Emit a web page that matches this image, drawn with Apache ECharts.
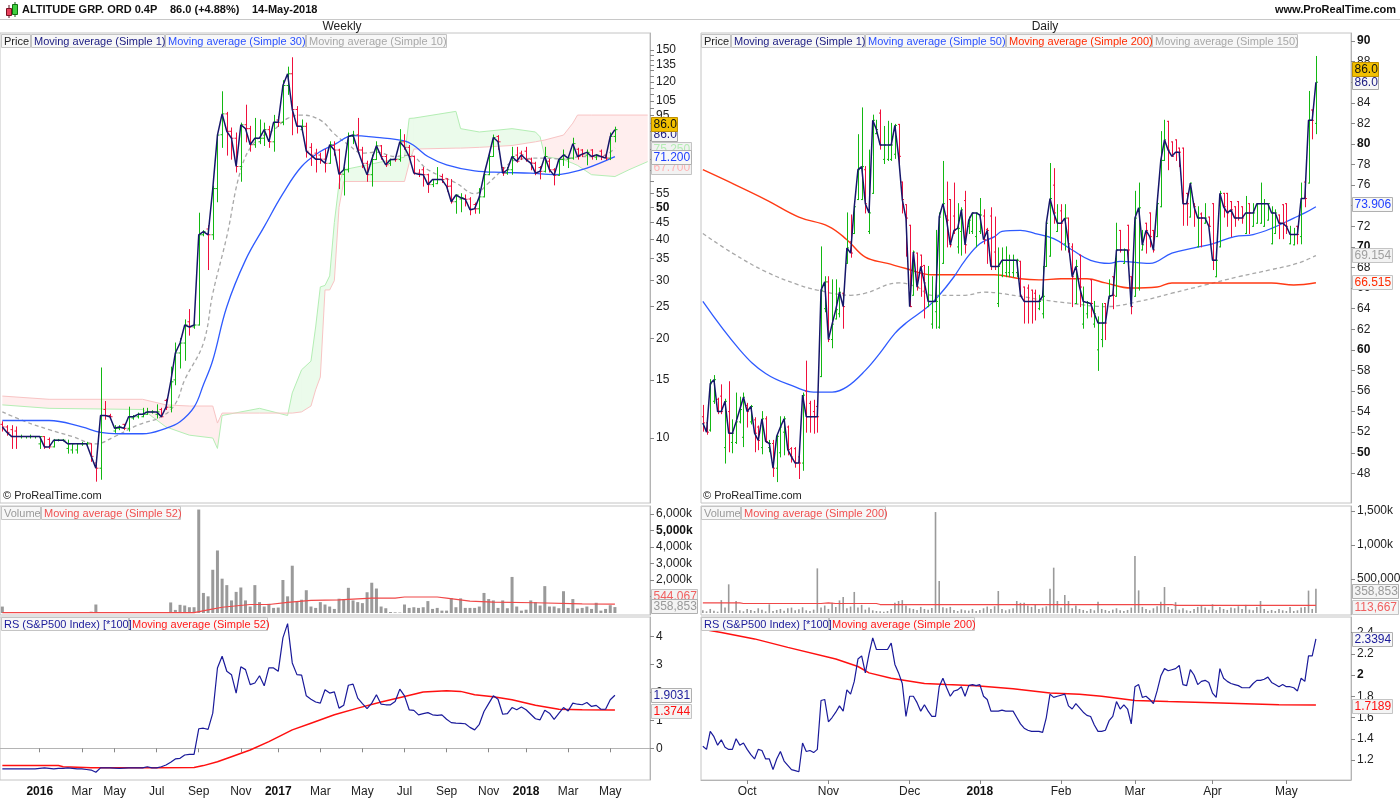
<!DOCTYPE html>
<html><head><meta charset="utf-8">
<script src="https://cdn.jsdelivr.net/npm/echarts@6/dist/echarts.min.js"></script>
<style>html,body{margin:0;padding:0;background:#fff}#c{width:1400px;height:800px}</style>
</head><body><div id="c"></div>
<script>
const FONT = '"Liberation Sans", Arial, sans-serif';
const UP = '#12b812', DOWN = '#f0103c', NAVY = '#16166a';

// ---------- WEEKLY (bar index 0 = week of 9-Nov-2015, 131 = 14-May-2018) ----------
const wOpen = [11.0,10.8,10.6,10.5,10.1,10.1,10.1,10.1,9.6,10.1, 9.9,9.4,9.85,9.85,9.3,9.2,9.2,9.6,9.6,9.6,
 8.4,8.1,12.2,11.7,10.5,10.7,11.0,10.7,11.5,11.6, 11.6,11.8,12.0,11.8,12.2,13.0,12.4,15.0,18.1,19.4,
 22.5,21.7,22.0,41.3,43,41.3,57,83,96,85, 81,66.5,89,86.6,77.4,79,81,86,79,92,
 90.5,117,127,99,86,88,76,73,72,70, 68,77,74.6,63,65,82,83,74.6,68,62.8,
 69.8,76.8,71.3,68,70,69.8,79,76,71.3,63.5, 65,62.8,58.6,59,62,61,58,52,53,53,
 53,51,49.5,53.8,62.8,71.3,82,66,63.5,65, 72,73,74,70,68,66,64.3,69,65,62.5,
 69.8,70,70.5,75,74.6,72,74.6,71,74,72, 70.5,82];
const wHigh = [11.2,10.9,10.9,10.8,10.2,10.1,10.2,10.1,10.1,10.1, 10.0,9.9,9.9,9.9,9.85,9.6,9.6,9.7,9.7,9.6,
 8.7,16.3,12.9,11.8,10.9,10.9,11.0,12.4,11.7,11.9, 12.3,12.3,12.1,12.6,12.3,13.1,16.4,19.4,20.0,22.8,
 24.5,23.0,48.0,42.5,44,58,83,112,97,87, 84,90,102,88,93,92,90,88,95,94,
 121,133,142,101,92,90,78,75,73,75, 79,79,75,66,84,85,93,76,69,72,
 79,77,72,70,71,86,83,77,71.5,65, 66,63,60.7,66,63,61,60.7,54.5,55,54.5,
 53.5,51.5,57,63.5,72.5,82.8,82.5,66,66,76, 76,74,76,70.5,68.5,66.5,76,70,65.5,70,
 74.6,71.5,81,75.5,74.8,74.6,74.8,72.3,74.6,72.3, 84,87.5];
const wLow = [10.5,10.2,9.3,9.3,10.0,10.0,10.0,10.0,9.3,9.3, 9.3,9.4,9.8,9.8,9.0,9.0,9.0,9.5,9.5,8.5,
 7.4,7.5,11.4,11.5,10.4,10.6,10.6,10.5,11.4,11.5, 11.6,11.8,11.9,11.5,11.6,12.2,12.0,14.5,16.3,17.2,
 20.5,21.5,22.0,41.0,32.4,40,52,76,72,70, 64,60,79,74,76,78,77,76,74,88,
 89,110,83,84,85,71,67,64,68,64, 68,72,57,54.5,64,78,73,66,60,58,
 69.8,70,66.5,67,69,69,75,70,63,62, 58,55.5,57.8,59,59.5,56,51.5,48,48.5,50.5,
 47.5,48,48,53.8,62.8,71.3,75,62.5,63,63, 68.5,69.8,69,65,62.8,61,64,64,58.5,62.5,
 67,66,70,70,71.3,67.3,70,69.8,69.8,69.8, 69.8,79];
const wClose = [10.8,10.4,10.1,10.1,10.1,10.1,10.1,10.1,10.1,9.4, 9.4,9.85,9.85,9.85,9.6,9.6,9.6,9.6,9.6,8.8,
 8.1,11.7,11.7,11.6,10.7,10.8,10.7,11.6,11.6,11.8, 11.8,12.0,12.0,12.0,11.6,12.4,14.8,18.1,19.4,22.0,
 21.7,22.0,41.3,42.2,41.3,57,82.8,96,85,81, 66.5,89,86.6,77.4,81,81,86,79,90.5,90.5,
 117,127,99,88,88,74,72,70,70,68, 77.4,74.6,63,65,82,82.8,74.6,68,62.8,69.8,
 76.8,71.3,67.3,69.8,69.8,79,76,71.3,63.5,63, 62.8,58.6,60.7,60.7,60.7,57.9,52,54.5,53.5,52.9,
 49.2,49.5,53.8,62.8,71.3,81.4,79,63.5,65,71.3, 69,72.1,69.8,68.1,63.5,64.3,71.3,65,62.5,69.8,
 72.1,70.5,78,71.3,72.5,73.4,71.3,72.1,71.3,70.5, 82,86];
// moving averages: [bar index, value]
const wMA30 = [[0,11.3],[10,11.3],[17,10.8],[21,10.4],[25,10.3],[30,10.3],[35,10.7],[38,11.2],[41,12.4],[43,14.5],[45,17.2],[48,25],[52,34.6],[56,43.7],[60,55],[64,66.5],[68,73.8],[71,77.5],[75,82.5],[80,81.5],[86,79.5],[88,77],[91,71.3],[95,67.3],[101,64.5],[107,63.8],[113,63.5],[118,62.8],[121,63.5],[125,65.7],[131,71.2]];
const wMA10 = [[0,12.0],[5,11.2],[10,10.6],[15,10.1],[20,9.6],[24,10.1],[29,10.95],[34,11.6],[37,12.7],[39,15],[43,19.4],[45,27.4],[48,40.8],[51,65],[54,79],[58,85.8],[61,93],[64,95.2],[68,91.9],[71,83.5],[74,77.4],[77,73],[80,73.5],[84,71.3],[87,72],[91,65],[97,59.3],[101,55],[104,59.3],[107,65],[110,69.8],[116,70.5],[120,70],[124,71.3],[128,71.3],[131,75.7]];
// ichimoku cloud spans (projected forward)
const ichiIdx = [0,10,30,35,40,45,46,47,55,61, 62,64,66,67,68,69,70,71,72,73, 86,87,88,97,98,102,109,114,115,116, 120,122,123,126,131,134,138];
const spanA = [12.6,12.3,12.2,10.8,10.2,10.0,9.3,11.7,12.3,11.7, 13.7,16.1,17.1,21.7,28.7,29,31,45,59,65, 71,93,93.2,97.7,86.6,84.6,86.6,84.6,81.8,71.3, 69.8,68,67,62.8,62,65,68.8];
const spanB = [13.4,13.1,13.1,12.6,12.5,12.5,11.1,11.9,11.9,11.9, 11.9,12.0,12.5,14,15.3,28.1,28.1,30,50,59.9, 59.9,68,75.1,75.6,75.6,76,77,79,79.5,80, 82.8,90,95.2,95.2,95.2,95.2,95.2];
// weekly volume (thousands)
const wVolK = [390,10,5,8,5,3,5,4,6,5, 3,8,4,6,5,3,4,6,5,80, 515,40,30,20,15,20,10,30,15,20, 10,15,10,25,15,40,640,186,495,454,
 350,350,6270,1216,1010,2620,3790,2080,1690,763, 1280,1546,763,392,1690,660,392,557,309,330,
 2000,1010,2866,701,804,1381,392,309,660,515, 392,247,866,825,1526,763,660,598,1258,1835,
 1484,392,289,60,40,30,515,309,350,309, 350,722,247,309,144,144,907,350,887,309,
 309,309,392,1216,845,763,309,763,289,2186, 392,144,200,763,660,454,1629,392,392,289,
 1320,309,845,268,309,392,247,619,144,247, 474,358.853];
const wVolMA52 = [[0,20],[41,20],[44,186],[47,350],[53,515],[57,515],[61,640],[66,763],[72,800],[79,907],[84,907],[86,969],[93,969],[95,907],[100,722],[105,660],[114,620],[124,557],[131,544.067]];
// relative strength vs S&P500 (*100)
const wRS = [-0.74,-0.74,-0.74,-0.74,-0.74,-0.74,-0.74,-0.74,-0.72,-0.70, -0.72,-0.74,-0.72,-0.72,-0.70,-0.72,-0.74,-0.74,-0.76,-0.78,
 -0.86,-0.70,-0.70,-0.70,-0.71,-0.72,-0.71,-0.70,-0.70,-0.70, -0.70,-0.66,-0.70,-0.70,-0.66,-0.60,-0.50,-0.38,-0.36,-0.24,
 -0.22,-0.22,0.70,0.72,0.68,1.26,2.88,3.30,2.76,2.64, 1.98,2.92,2.82,2.28,2.34,2.60,2.24,2.88,2.88,2.76,
 3.96,4.47,3.06,2.64,2.62,1.88,1.76,1.66,1.62,2.10, 1.98,2.02,1.44,1.54,2.26,2.30,1.80,1.60,1.42,1.62,
 1.92,1.58,1.56,1.56,1.68,2.12,1.88,1.38,1.36,1.20, 1.24,1.28,1.20,1.18,1.20,1.04,0.92,0.90,0.89,0.88,
 0.75,0.66,0.86,1.32,1.60,1.88,1.76,1.22,1.24,1.46, 1.38,1.48,1.38,1.22,1.06,1.02,1.36,1.26,1.04,1.25,
 1.46,1.34,1.62,1.58,1.56,1.64,1.50,1.54,1.40,1.40, 1.74,1.9031];
const wRSMA52 = [[0,-0.62],[12,-0.62],[13,-0.66],[19,-0.70],[33,-0.70],[41,-0.69],[43,-0.62],[46,-0.48],[49,-0.30],[53,-0.06],[57,0.24],[62,0.66],[66,0.90],[71,1.2],[76,1.44],[81,1.66],[86,1.86],[90,2.02],[95,2.06],[98,2.04],[101,1.92],[105,1.85],[109,1.74],[114,1.54],[119,1.40],[124,1.38],[131,1.3744]];
const wLabelIdx = [8,17,24,33,42,51,59,68,77,86,95,104,112,121,130];
const wLabelTxt = ['2016','Mar','May','Jul','Sep','Nov','2017','Mar','May','Jul','Sep','Nov','2018','Mar','May'];
const wPriceLabels = [10,15,20,25,30,35,40,45,50,55,95,105,120,135,150];
const wPriceTicks = [10,15,20,25,30,35,40,45,50,55,60,65,70,75,80,85,90,95,100,105,110,115,120,125,130,135,140,145,150];

// ---------- DAILY (bar index 0 = 14-Sep-2017, 166 = 14-May-2018) ----------
const dOpen = [53.5,52.9,52.2,55.0,55.2,55.5,50.5,54.0,51.0,51.0, 53.0,51.5,54.6,53.0,53.2,52.5,50.5,53.3,50.5,50.9,
 48.5,50.0,52.0,52.5,50.4,50.4,49.6,49.0,56.0,54.8, 54.0,54.5,57.4,64.0,66.6,61.0,63.0,63.5,65.5,68.4,
 70.5,71.3,74.6,74.6,77.5,71.5,75.2,81.0,83.0,78.5, 78.5,78.5,79.0,81.9,76.3,74.1,72.1,65.3,69.4,69.2,
 68.2,64.2,62.5,63.7,62.2,68.4,73.0,74.6,73.0,70.0, 71.5,74.5,72.0,71.5,71.0,71.5,73.0,71.7,73.0,69.5,
 64.5,67.2,67.5,67.5,67.5,67.5,68.6,66.1,66.0,65.8, 65.5,64.0,63.5,68.1,69.1,76.0,71.5,73.5,70.3,72.8,
 70.0,64.5,69.2,62.5,63.5,66.8,62.5,60.0,61.0,64.5, 65.0,67.1,65.2,71.6,68.4,72.1,67.1,65.2,66.0,69.7,
 72.3,73.3,71.6,71.0,73.9,78.4,82.2,80.2,80.4,79.6, 79.6,75.2,72.9,74.1,70.0,73.2,72.3,72.9,74.2,67.1,
 70.0,75.2,75.2,74.4,73.9,74.4,73.9,71.3,74.2,72.0, 72.3,72.3,72.0,72.6,70.3,71.3,73.1,74.1,74.2,70.3,
 70.2,72.0,71.0,76.3,76.2,83.3,82.0];
const dHigh = [54.6,53.2,57.1,57.5,55.3,56.6,55.2,56.9,53.2,55.8, 55.4,55.8,54.8,54.6,53.4,52.6,54.0,53.5,51.2,51.2,
 51.8,53.5,53.5,52.6,50.5,50.5,50.4,55.8,58.9,55.0, 55.1,54.8,70.0,67.1,67.1,66.8,66.8,66.0,65.5,73.3,
 73.1,74.2,80.9,83.5,77.8,79.4,82.8,82.3,83.3,81.7, 82.2,82.0,81.9,81.9,76.3,74.1,72.1,69.6,69.4,69.2,
 68.2,68.1,67.1,71.6,73.3,78.3,76.3,74.6,76.2,74.2, 73.8,75.4,72.9,73.3,73.3,74.7,73.6,71.8,73.8,72.9,
 69.9,69.9,70.0,69.2,69.2,68.8,68.6,66.1,66.3,65.8, 65.8,65.3,68.1,72.3,78.1,77.6,74.1,74.1,74.1,72.8,
 70.3,68.7,69.2,66.1,64.7,66.8,64.7,63.2,64.5,64.5, 66.8,67.1,72.3,71.6,69.8,72.1,67.1,75.4,76.2,71.6,
 72.3,73.3,71.6,74.2,81.2,82.3,82.2,80.2,80.4,79.6, 79.6,75.2,76.2,74.2,73.9,73.3,74.2,72.9,74.2,69.7,
 75.4,75.2,75.2,74.4,73.9,74.4,73.9,74.9,74.2,74.2, 74.2,76.2,74.6,74.2,73.9,73.6,73.1,74.1,74.2,72.0,
 71.8,72.0,76.2,76.3,85.1,83.3,88.5];
const dLow = [52.1,51.8,52.1,54.8,53.8,53.8,49.0,50.1,50.0,50.9, 52.9,50.6,52.5,52.8,50.1,50.3,49.9,51.0,50.1,47.7,
 47.2,49.6,49.8,49.8,49.1,48.6,47.5,48.3,52.0,52.0, 51.9,52.0,57.4,63.7,60.8,60.2,63.0,63.2,62.1,68.4,
 69.0,71.3,74.6,74.6,73.3,71.3,75.2,81.0,79.5,78.1, 78.4,78.4,78.6,78.0,73.3,69.1,64.2,65.3,65.8,65.2,
 63.1,64.2,62.1,62.1,62.1,68.4,70.0,70.0,71.3,69.4, 69.2,69.4,71.3,71.3,70.0,71.3,70.3,68.4,67.8,67.8,
 64.2,67.1,67.1,67.1,67.1,67.1,65.2,62.6,62.6,62.6, 62.9,63.9,63.1,68.1,69.1,72.3,71.5,69.7,69.7,69.5,
 64.2,64.5,64.2,62.1,63.1,63.2,62.2,58.0,60.3,61.0, 65.0,64.0,65.2,69.5,68.4,68.4,63.5,65.2,65.8,69.7,
 69.4,70.0,69.5,71.0,73.9,78.4,77.5,78.8,78.4,77.8, 72.1,72.1,72.9,72.0,70.0,70.0,72.3,72.0,67.8,67.1,
 70.0,72.9,72.0,71.0,72.0,72.6,72.3,71.3,71.3,72.0, 72.3,72.3,72.0,72.6,70.3,71.3,70.8,70.8,71.3,70.3,
 70.2,70.3,70.3,73.9,76.2,80.5,81.0];
const dClose = [52.9,52.0,56.7,57.1,54.0,54.0,55.0,51.9,51.9,53.0, 54.2,55.4,54.0,54.5,51.9,51.2,53.3,51.1,50.9,48.5,
 51.6,52.5,53.3,50.3,49.6,49.0,49.0,55.6,53.5,53.5, 53.5,53.5,65.8,66.6,61.0,62.5,63.9,65.6,64.2,69.9,
 69.4,73.9,77.5,77.8,74.2,73.3,82.3,81.4,79.9,79.9, 79.9,79.9,81.8,78.8,74.6,72.8,64.2,69.5,66.1,68.1,
 66.5,64.7,64.7,64.7,72.9,74.2,72.6,70.2,71.6,71.8, 73.6,70.2,72.6,73.3,73.3,73.1,70.7,71.6,68.1,68.1,
 68.1,68.7,68.7,68.7,68.7,68.7,65.3,64.7,64.7,64.7, 64.7,64.7,65.2,72.3,74.7,73.3,72.3,72.3,72.8,70.3,
 67.1,68.1,66.1,64.7,64.6,64.5,63.5,62.6,62.6,62.6, 65.2,65.3,69.7,69.7,69.7,69.7,64.2,72.8,73.8,70.2,
 71.6,71.0,69.7,74.2,78.4,80.4,79.4,78.8,79.2,79.2, 74.2,74.2,76.2,73.9,72.8,72.8,72.8,72.0,68.7,68.7,
 75.2,73.9,73.3,73.6,72.8,72.8,72.8,73.3,73.3,73.3, 74.2,74.2,74.2,74.2,73.3,73.3,72.3,72.3,72.0,71.2,
 71.2,71.2,74.7,74.7,82.3,82.3,86.0];
const dMA50 = [[0,64.7],[10,60.0],[17,57.7],[25,56.4],[30,55.9],[35,55.9],[39,56.4],[44,58.0],[48,59.7],[52,61.6],[55,62.6],[61,64.2],[64,65.3],[68,67.1],[71,68.7],[75,70.3],[79,71.0],[81,71.5],[86,71.6],[90,71.3],[95,70.8],[100,69.7],[105,68.7],[110,68.4],[113,68.6],[121,68.4],[127,69.4],[133,69.9],[138,70.3],[144,71.0],[149,71.2],[154,71.8],[160,72.8],[163,73.3],[166,73.906]];
const dMA200 = [[0,77.5],[6,76.5],[17,74.6],[26,72.9],[34,72.0],[39,70.7],[44,69.0],[50,68.4],[55,67.9],[62,67.3],[71,67.3],[79,67.3],[86,66.9],[91,66.8],[97,66.9],[104,66.9],[109,66.5],[116,66.0],[123,66.1],[127,66.5],[136,66.5],[154,66.5],[160,66.3],[166,66.515]];
const dMA150 = [[0,71.3],[8,69.4],[17,67.6],[26,66.3],[31,65.8],[40,65.3],[44,65.5],[53,66.5],[58,66.1],[62,65.3],[71,65.3],[76,65.6],[86,65.2],[91,64.9],[100,64.5],[109,64.2],[118,64.7],[127,65.5],[136,66.3],[145,67.1],[154,67.8],[161,68.4],[166,69.154]];
const dVolK = [40,25,60,35,20,190,80,422,30,177, 40,25,60,45,30,70,50,25,128,30, 45,60,35,70,80,40,55,85,40,30,
 50,657,80,110,60,150,90,186,235,70, 95,310,80,120,50,80,40,30,25,20, 30,60,150,177,190,110,70,60,45,90,
 60,50,75,1485,471,85,70,90,45,30, 55,40,35,60,30,45,70,95,60,100, 324,60,40,55,70,177,150,150,110,90,
 128,60,80,100,358,667,177,80,265,177, 70,110,60,45,30,60,40,165,60,45, 30,50,70,40,30,45,80,838,333,90,
 60,40,70,100,165,382,90,60,160,50, 70,40,30,60,90,110,80,50,128,40, 90,60,45,80,70,100,60,120,50,40,
 90,177,60,30,45,30,60,40,30,90, 30,40,80,90,330,60,358.853];
const dVolMA200 = [[0,150],[10,150],[11,140],[32,140],[34,148],[36,140],[47,140],[48,125],[127,125],[128,113.667],[166,113.667]];
const dRS = [1.33,1.30,1.47,1.42,1.34,1.39,1.32,1.30,1.30,1.40, 1.34,1.36,1.30,1.25,1.21,1.30,1.29,1.21,1.21,1.11,
 1.21,1.28,1.19,1.15,1.11,1.10,1.09,1.36,1.28,1.29, 1.27,1.30,1.76,1.77,1.56,1.60,1.65,1.71,1.66,1.86,
 1.82,1.94,2.15,2.18,2.02,2.20,2.35,2.24,2.24,2.24, 2.24,2.30,2.10,2.02,1.92,1.61,1.80,1.80,1.74,1.66,
 1.72,1.66,1.61,1.61,1.89,1.97,1.88,1.80,1.85,1.86, 1.89,1.80,1.90,1.91,1.90,1.91,1.80,1.77,1.66,1.66,
 1.66,1.67,1.66,1.66,1.66,1.60,1.54,1.50,1.48,1.47, 1.47,1.47,1.46,1.60,1.82,1.79,1.80,1.81,1.82,1.71,
 1.68,1.73,1.69,1.65,1.62,1.61,1.53,1.47,1.47,1.48, 1.57,1.61,1.75,1.68,1.72,1.68,1.54,1.89,1.91,1.79,
 1.80,1.77,1.73,1.85,1.99,2.06,2.04,2.05,2.06,2.09, 1.91,1.90,2.05,2.00,1.91,1.94,1.95,1.93,1.83,1.79,
 2.06,1.97,1.94,1.92,1.91,1.90,1.88,1.88,1.88,1.92, 1.95,1.95,1.96,1.98,1.93,1.91,1.89,1.91,1.89,1.89,
 1.88,1.85,1.97,1.94,2.18,2.18,2.3394];
const dRSMA200 = [[0,2.43],[5,2.40],[14,2.34],[23,2.26],[36,2.15],[42,2.08],[45,2.02],[51,1.97],[60,1.92],[66,1.91],[74,1.90],[84,1.87],[94,1.83],[102,1.82],[108,1.80],[117,1.76],[126,1.75],[138,1.74],[156,1.72],[166,1.7189]];
const dLabelIdx = [12,34,56,75,97,117,138,158];
const dLabelTxt = ['Oct','Nov','Dec','2018','Feb','Mar','Apr','May'];
const dPriceLabels = [48,50,52,54,56,58,60,62,64,66,68,70,72,74,76,78,80,82,84,86,88,90];

// ---------- build ----------
const L = Math.log;
const wN = 139, dN = 176;
const wCats = Array.from({length: wN}, (_, i) => String(i));
const dCats = Array.from({length: dN}, (_, i) => String(i));
const rich = {b: {fontWeight: 'bold', fontSize: 12, fontFamily: FONT, color: '#111'}};

const grids = [
  {left: 0, top: 33, width: 650, height: 470},
  {left: 0, top: 506, width: 650, height: 109},
  {left: 0, top: 617, width: 650, height: 163},
  {left: 701, top: 33, width: 650, height: 470},
  {left: 701, top: 506, width: 650, height: 109},
  {left: 701, top: 617, width: 650, height: 163}
].map(g => Object.assign(g, {show: true, borderColor: '#c4c4c4', borderWidth: 1, backgroundColor: '#fff', containLabel: false, outerBoundsMode: 'none'}));

function xa(gi, cats, show, labIdx, labTxt) {
  const isLab = (i) => labIdx.indexOf(i) >= 0;
  return {type: 'category', gridIndex: gi, data: cats, boundaryGap: true,
    axisLine: {show: show, lineStyle: {color: '#b4b4b4'}},
    axisTick: {show: show, interval: (i) => isLab(i), alignWithLabel: true, length: 4, lineStyle: {color: '#888'}},
    axisLabel: {show: show, interval: (i) => isLab(i), margin: 6, color: '#222', fontSize: 12, fontFamily: FONT, rich,
      formatter: (v) => { const k = labIdx.indexOf(Number(v)); if (k < 0) return ''; const t = labTxt[k]; return /^\d{4}$/.test(t) ? '{b|' + t + '}' : t; }},
    splitLine: {show: false}, axisPointer: {show: false}};
}
function ya(gi, min, max, labVals, tickVals, fmt) {
  return {type: 'value', gridIndex: gi, position: 'right', min, max,
    axisLine: {show: true, lineStyle: {color: '#b4b4b4'}},
    axisTick: {show: true, length: 4, customValues: tickVals, lineStyle: {color: '#888'}},
    axisLabel: {show: true, customValues: labVals, formatter: fmt, margin: 6, color: '#222', fontSize: 12, fontFamily: FONT, rich},
    splitLine: {show: false}};
}
const kfmt = (v) => Math.round(v / 1000).toLocaleString('en-US') + 'k';

const xAxis = [
  xa(0, wCats, false, wLabelIdx, wLabelTxt), xa(1, wCats, false, wLabelIdx, wLabelTxt), xa(2, wCats, true, wLabelIdx, wLabelTxt),
  xa(3, dCats, false, dLabelIdx, dLabelTxt), xa(4, dCats, false, dLabelIdx, dLabelTxt), xa(5, dCats, true, dLabelIdx, dLabelTxt)
];
const yAxis = [
  ya(0, L(6.354), L(168.8), wPriceLabels.map(L), wPriceTicks.map(L), (v) => { const p = Math.round(Math.exp(v)); return p === 50 ? '{b|50}' : String(p); }),
  ya(1, -121000, 6485000, [2e6, 3e6, 4e6, 5e6, 6e6], [1e6, 2e6, 3e6, 4e6, 5e6, 6e6], (v) => v === 5e6 ? '{b|' + kfmt(v) + '}' : kfmt(v)),
  ya(2, -1.136, 4.706, [0, 1, 2, 3, 4], [0, 1, 2, 3, 4], (v) => String(Math.round(v))),
  ya(3, 45.12, 90.78, dPriceLabels, dPriceLabels, (v) => (Math.round(v) % 10 === 0 ? '{b|' + Math.round(v) + '}' : String(Math.round(v)))),
  ya(4, -29000, 1574000, [5e5, 1e6, 1.5e6], [5e5, 1e6, 1.5e6], (v) => v === 5e5 ? '500,000' : kfmt(v)),
  ya(5, 1.012, 2.546, [1.2, 1.4, 1.6, 1.8, 2, 2.2, 2.4], [1.2, 1.4, 1.6, 1.8, 2, 2.2, 2.4], (v) => Math.abs(v - 2) < 1e-6 ? '{b|2}' : v.toFixed(1))
];

function ohlcSeries(xi, yi, O, H, Lo, C, tf, tick) {
  return {type: 'custom', xAxisIndex: xi, yAxisIndex: yi, z: 5, clip: true, silent: true,
    data: C.map((c, i) => [i, tf(O[i]), tf(H[i]), tf(Lo[i]), tf(c)]),
    encode: {x: 0, y: [1, 2, 3, 4]},
    renderItem(params, api) {
      const i = api.value(0);
      const o = api.coord([i, api.value(1)]), h = api.coord([i, api.value(2)]);
      const l = api.coord([i, api.value(3)]), c = api.coord([i, api.value(4)]);
      const col = C[params.dataIndex] >= O[params.dataIndex] ? UP : DOWN;
      const x = Math.round(o[0]) + 0.5;
      const st = {stroke: col, lineWidth: 1};
      return {type: 'group', children: [
        {type: 'line', shape: {x1: x, y1: h[1] - 0.5, x2: x, y2: l[1] + 0.5}, style: st},
        {type: 'line', shape: {x1: x - tick, y1: o[1], x2: x, y2: o[1]}, style: st},
        {type: 'line', shape: {x1: x, y1: c[1], x2: x + tick, y2: c[1]}, style: st}
      ]};
    }};
}
function lineS(xi, yi, data, color, width, extra) {
  return Object.assign({type: 'line', xAxisIndex: xi, yAxisIndex: yi, data, symbol: 'none', silent: true, z: 4,
    lineStyle: {color, width}, emphasis: {disabled: true}}, extra || {});
}
function tagSeries(xi, yi, tags) {
  return {type: 'custom', xAxisIndex: xi, yAxisIndex: yi, z: 60, clip: false, silent: true,
    data: tags.map(t => [0, t.v]),
    renderItem(params, api) {
      const t = tags[params.dataIndex];
      const cs = params.coordSys;
      const y = api.coord([0, api.value(1)])[1] + (t.dy || 0);
      const x = cs.x + cs.width + 1.5;
      return {type: 'group', children: [
        {type: 'rect', shape: {x: x, y: Math.round(y - 7) + 0.5, width: t.w, height: 14}, style: {fill: t.bg, stroke: t.bd, lineWidth: 1}},
        {type: 'text', style: {x: x + 2, y: Math.round(y - 7) + 7.5, text: t.text, fill: t.fg, font: '12px ' + FONT, verticalAlign: 'middle', align: 'left'}}
      ]};
    }};
}

const CLOUD_G = 'rgba(60,220,60,0.10)', CLOUD_R = 'rgba(255,70,70,0.09)';
const cloudData = [];
for (let k = 0; k < ichiIdx.length - 1; k++) cloudData.push([ichiIdx[k], L(spanA[k]), L(spanB[k]), ichiIdx[k + 1], L(spanA[k + 1]), L(spanB[k + 1])]);

const series = [
  {type: 'custom', xAxisIndex: 0, yAxisIndex: 0, z: 1, clip: true, silent: true, data: cloudData,
    encode: {x: [0, 3], y: [1, 2, 4, 5]},
    renderItem(params, api) {
      const a1 = api.coord([api.value(0), api.value(1)]), b1 = api.coord([api.value(0), api.value(2)]);
      const a2 = api.coord([api.value(3), api.value(4)]), b2 = api.coord([api.value(3), api.value(5)]);
      const d1 = api.value(1) - api.value(2), d2 = api.value(4) - api.value(5);
      const col = (d) => d >= 0 ? CLOUD_G : CLOUD_R;
      const ch = [];
      if (d1 * d2 < 0) {
        const t = d1 / (d1 - d2);
        const X = [a1[0] + (a2[0] - a1[0]) * t, a1[1] + (a2[1] - a1[1]) * t];
        ch.push({type: 'polygon', shape: {points: [a1, X, b1]}, style: {fill: col(d1)}});
        ch.push({type: 'polygon', shape: {points: [X, a2, b2]}, style: {fill: col(d2)}});
      } else {
        ch.push({type: 'polygon', shape: {points: [a1, a2, b2, b1]}, style: {fill: col(d1 + d2)}});
      }
      return {type: 'group', children: ch};
    }},
  lineS(0, 0, ichiIdx.map((i, k) => [i, L(spanA[k])]), '#b4eeb4', 1, {z: 2}),
  lineS(0, 0, ichiIdx.map((i, k) => [i, L(spanB[k])]), '#f8c4c4', 1, {z: 2}),
  lineS(0, 0, wMA10.map(([i, v]) => [i, L(v)]), '#a8a8a8', 1.3, {smooth: 0.4, lineStyle: {color: '#a8a8a8', width: 1.3, type: [4, 3]}}),
  lineS(0, 0, wMA30.map(([i, v]) => [i, L(v)]), '#2f5bff', 1.3, {smooth: 0.4}),
  ohlcSeries(0, 0, wOpen, wHigh, wLow, wClose, L, 2),
  lineS(0, 0, wClose.map(L), NAVY, 1.5, {z: 6}),
  tagSeries(0, 0, [
    {v: L(86), dy: 4, text: '86.0', w: 26, bg: '#f6f6f6', bd: '#a8a8a8', fg: '#1a1a80'},
    {v: L(75.25), dy: 0, text: '75.250', w: 40, bg: '#f2f2f2', bd: '#c4c4c4', fg: '#b4ecb4'},
    {v: L(67.7), dy: 3, text: '67.700', w: 40, bg: '#f2f2f2', bd: '#c4c4c4', fg: '#ffb4b4'},
    {v: L(71.2), dy: 0, text: '71.200', w: 40, bg: '#f8f8f8', bd: '#b0b0b0', fg: '#2040ff'},
    {v: L(86), dy: -6, text: '86.0', w: 26, bg: '#f2c000', bd: '#c09000', fg: '#111'}
  ]),
  // weekly volume
  {type: 'bar', xAxisIndex: 1, yAxisIndex: 1, data: wVolK.map(v => v * 1000), barWidth: 3, silent: true, itemStyle: {color: '#9a9a9a'}, z: 3},
  lineS(1, 1, wVolMA52.map(([i, v]) => [i, v * 1000]), '#f04848', 1.2),
  tagSeries(1, 1, [
    {v: 544067, dy: -8, text: '544,067', w: 46, bg: '#f2f2f2', bd: '#c4c4c4', fg: '#f06060'},
    {v: 358853, dy: -1, text: '358,853', w: 46, bg: '#f4f4f4', bd: '#b0b0b0', fg: '#999'}
  ]),
  // weekly RS
  lineS(2, 2, wRSMA52, '#ff1010', 1.5),
  lineS(2, 2, wRS, '#1a1a9a', 1.2, {z: 5}),
  tagSeries(2, 2, [
    {v: 1.9031, dy: 0, text: '1.9031', w: 40, bg: '#f8f8f8', bd: '#b0b0b0', fg: '#1a1a9a'},
    {v: 1.3744, dy: 1, text: '1.3744', w: 40, bg: '#f4f4f4', bd: '#c4c4c4', fg: '#ff1010'}
  ]),
  // daily price
  lineS(3, 3, dMA150, '#a8a8a8', 1.3, {smooth: 0.4, lineStyle: {color: '#a8a8a8', width: 1.3, type: [4, 3]}}),
  lineS(3, 3, dMA200, '#ff3a14', 1.4, {smooth: 0.4}),
  lineS(3, 3, dMA50, '#2f5bff', 1.3, {smooth: 0.4}),
  ohlcSeries(3, 3, dOpen, dHigh, dLow, dClose, (v) => v, 1.5),
  lineS(3, 3, dClose, NAVY, 1.5, {z: 6}),
  tagSeries(3, 3, [
    {v: 86, dy: 0, text: '86.0', w: 26, bg: '#f6f6f6', bd: '#a8a8a8', fg: '#1a1a80'},
    {v: 69.154, dy: -1, text: '69.154', w: 40, bg: '#f2f2f2', bd: '#c4c4c4', fg: '#a0a0a0'},
    {v: 66.515, dy: -1, text: '66.515', w: 40, bg: '#f8f8f8', bd: '#c4c4c4', fg: '#ff2a00'},
    {v: 73.906, dy: -3, text: '73.906', w: 40, bg: '#f8f8f8', bd: '#b0b0b0', fg: '#2040ff'},
    {v: 86, dy: -13, text: '86.0', w: 26, bg: '#f2c000', bd: '#c09000', fg: '#111'}
  ]),
  // daily volume
  {type: 'bar', xAxisIndex: 4, yAxisIndex: 4, data: dVolK.map(v => v * 1000), barWidth: 1.6, silent: true, itemStyle: {color: '#9a9a9a'}, z: 3},
  lineS(4, 4, dVolMA200.map(([i, v]) => [i, v * 1000]), '#f04848', 1.2),
  tagSeries(4, 4, [
    {v: 358853, dy: 2, text: '358,853', w: 46, bg: '#f4f4f4', bd: '#b0b0b0', fg: '#999'},
    {v: 113667, dy: 2, text: '113,667', w: 46, bg: '#f4f4f4', bd: '#c4c4c4', fg: '#f06060'}
  ]),
  // daily RS
  lineS(5, 5, dRSMA200, '#ff1010', 1.5),
  lineS(5, 5, dRS, '#1a1a9a', 1.2, {z: 5}),
  tagSeries(5, 5, [
    {v: 2.3394, dy: 0, text: '2.3394', w: 40, bg: '#f8f8f8', bd: '#b0b0b0', fg: '#1a1a9a'},
    {v: 1.7189, dy: 1, text: '1.7189', w: 40, bg: '#f4f4f4', bd: '#c4c4c4', fg: '#ff1010'}
  ])
];

// ---------- static text / legends ----------
const graphic = [];
function legend(x0, y, items) {
  let x = x0;
  items.forEach(([text, color, w]) => {
    graphic.push({type: 'rect', shape: {x: x + 0.5, y: y + 0.5, width: w, height: 13}, style: {fill: '#f7f7f7', stroke: '#c4c4c4', lineWidth: 1}, z: 100});
    graphic.push({type: 'text', x: x + 3, y: y + 7.5, style: {text, fill: color, font: '11px ' + FONT, verticalAlign: 'middle'}, z: 101});
    x += w + 1;
  });
}
legend(1, 34, [['Price', '#222', 29], ['Moving average (Simple 1)', '#1a1a80', 133], ['Moving average (Simple 30)', '#2a50ff', 140], ['Moving average (Simple 10)', '#a8a8a8', 140]]);
legend(701, 34, [['Price', '#222', 29], ['Moving average (Simple 1)', '#1a1a80', 133], ['Moving average (Simple 50)', '#2a50ff', 140], ['Moving average (Simple 200)', '#ff2a00', 145], ['Moving average (Simple 150)', '#a8a8a8', 145]]);
legend(1, 506, [['Volume', '#9a9a9a', 39], ['Moving average (Simple 52)', '#f05050', 139]]);
legend(701, 506, [['Volume', '#9a9a9a', 39], ['Moving average (Simple 200)', '#f05050', 144]]);
legend(1, 617, [['RS (S&P500 Index) [*100]', '#1a1a9a', 127], ['Moving average (Simple 52)', '#ff1a1a', 138]]);
legend(701, 617, [['RS (S&P500 Index) [*100]', '#1a1a9a', 127], ['Moving average (Simple 200)', '#ff1a1a', 145]]);
const HFONT = 'bold 11px ' + FONT;
graphic.push(
  {type: 'line', shape: {x1: 0, y1: 19.5, x2: 1400, y2: 19.5}, style: {stroke: '#c8c8c8', lineWidth: 1}, z: 100},
  {type: 'line', shape: {x1: 9, y1: 5, x2: 9, y2: 18}, style: {stroke: '#5a1020', lineWidth: 1}, z: 100},
  {type: 'rect', shape: {x: 6.5, y: 8.5, width: 5, height: 7}, style: {fill: '#e8405c', stroke: '#7a1020', lineWidth: 1}, z: 101},
  {type: 'line', shape: {x1: 15, y1: 2, x2: 15, y2: 17}, style: {stroke: '#106010', lineWidth: 1}, z: 100},
  {type: 'rect', shape: {x: 12.5, y: 4.5, width: 5, height: 10}, style: {fill: '#40d040', stroke: '#107010', lineWidth: 1}, z: 101},
  {type: 'text', x: 22, y: 10, style: {text: 'ALTITUDE GRP. ORD 0.4P', fill: '#111', font: HFONT, verticalAlign: 'middle'}, z: 101},
  {type: 'text', x: 170, y: 10, style: {text: '86.0 (+4.88%)', fill: '#111', font: HFONT, verticalAlign: 'middle'}, z: 101},
  {type: 'text', x: 252, y: 10, style: {text: '14-May-2018', fill: '#111', font: HFONT, verticalAlign: 'middle'}, z: 101},
  {type: 'text', x: 1396, y: 10, style: {text: 'www.ProRealTime.com', fill: '#111', font: HFONT, verticalAlign: 'middle', align: 'right'}, z: 101},
  {type: 'text', x: 342, y: 26.5, style: {text: 'Weekly', fill: '#222', font: '12px ' + FONT, verticalAlign: 'middle', align: 'center'}, z: 101},
  {type: 'text', x: 1045, y: 26.5, style: {text: 'Daily', fill: '#222', font: '12px ' + FONT, verticalAlign: 'middle', align: 'center'}, z: 101},
  {type: 'text', x: 3, y: 496, style: {text: '\u00A9 ProRealTime.com', fill: '#222', font: '11px ' + FONT, verticalAlign: 'middle'}, z: 101},
  {type: 'text', x: 703, y: 496, style: {text: '\u00A9 ProRealTime.com', fill: '#222', font: '11px ' + FONT, verticalAlign: 'middle'}, z: 101}
);

const chart = echarts.init(document.getElementById('c'), null, {renderer: 'canvas'});
chart.setOption({
  animation: false, backgroundColor: '#fff', textStyle: {fontFamily: FONT},
  grid: grids, xAxis, yAxis, series, graphic
});
</script></body></html>
